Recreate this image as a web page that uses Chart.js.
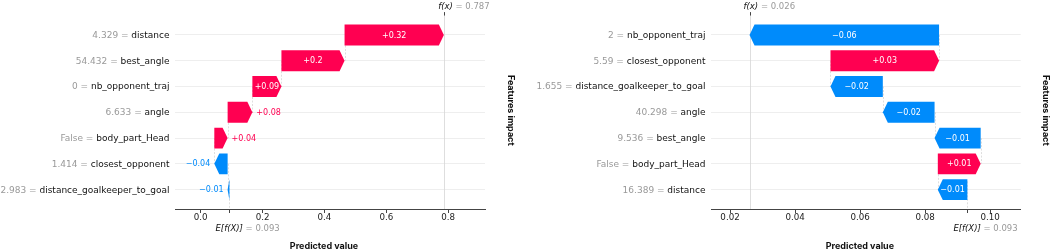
<!DOCTYPE html>
<html>
<head>
<meta charset="utf-8">
<script src="https://cdn.jsdelivr.net/npm/chart.js@4"></script>
<style>
body { margin: 0; background: #fff; }
#wrap { position: relative; width: 1052px; height: 251px; }
canvas { position: absolute; top: 0; }
</style>
</head>
<body>
<div id="wrap">
  <canvas id="leftChart" width="526" height="251" style="left:0"></canvas>
  <canvas id="rightChart" width="526" height="251" style="left:526px"></canvas>
</div>
<script>
// left shot: features top -> bottom
var leftFeatures = ["distance", "best_angle", "nb_opponent_traj", "angle", "body_part_Head", "closest_opponent", "distance_goalkeeper_to_goal"];
var leftValues = ["4.329", "54.432", "0", "6.633", "False", "1.414", "2.983"];
var leftShap = [0.321, 0.204, 0.094, 0.080, 0.043, -0.043, -0.006];
var leftBase = 0.093;
var leftFx = 0.787;
var leftTicks = [0.0, 0.2, 0.4, 0.6, 0.8];

// right shot
var rightFeatures = ["nb_opponent_traj", "closest_opponent", "distance_goalkeeper_to_goal", "angle", "best_angle", "body_part_Head", "distance"];
var rightValues = ["2", "5.59", "1.655", "40.298", "9.536", "False", "16.389"];
var rightShap = [-0.0583, 0.0334, -0.0161, -0.0159, -0.0142, 0.0132, -0.0091];
var rightBase = 0.093;
var rightFx = 0.026;
var rightTicks = [0.02, 0.04, 0.06, 0.08, 0.10];

var red = "#ff0051", blue = "#008bfb";
var labelFont = "DejaVu Sans";

// bars go from the bottom row up, starting at E[f(X)]
function waterfallData(shap, base) {
  var bars = [];
  var pos = base;
  for (var i = shap.length - 1; i >= 0; i--) {
    bars[i] = { x: [pos, pos + shap[i]], y: i };
    pos += shap[i];
  }
  return bars;
}

function fmt(v) {
  var s = Math.abs(v).toFixed(2).replace(/0+$/, "").replace(/\.$/, "");
  return (v < 0 ? "\u2212" : "+") + s;
}

var waterfallPlugin = {
  id: "waterfall",
  beforeDatasetsDraw: function (chart, args, opts) {
    var ctx = chart.ctx, xs = chart.scales.x, ys = chart.scales.y, area = chart.chartArea;
    ctx.save();
    ctx.strokeStyle = "#d6d6d6";
    ctx.lineWidth = 0.8;
    // f(x) line, full height
    var fx = Math.round(xs.getPixelForValue(opts.fx)) + 0.5;
    ctx.beginPath(); ctx.moveTo(fx, area.top); ctx.lineTo(fx, area.bottom); ctx.stroke();
    // E[f(X)] line, only the last row
    var ex = Math.round(xs.getPixelForValue(opts.base)) + 0.5;
    ctx.setLineDash([2, 1.5]);
    ctx.beginPath(); ctx.moveTo(ex, area.bottom - (area.bottom - area.top) / opts.shap.length); ctx.lineTo(ex, area.bottom); ctx.stroke();
    // connectors between bars
    for (var i = 0; i < opts.shap.length - 1; i++) {
      var lx = Math.round(xs.getPixelForValue(chart.data.datasets[0].data[i].x[0])) + 0.5;
      ctx.beginPath(); ctx.moveTo(lx, ys.getPixelForValue(i)); ctx.lineTo(lx, ys.getPixelForValue(i + 1)); ctx.stroke();
    }
    ctx.setLineDash([]);
    // small ticks for f(x) on top and E[f(X)] below
    ctx.strokeStyle = "#444";
    ctx.lineWidth = 1;
    ctx.beginPath(); ctx.moveTo(fx, area.top - 3.5); ctx.lineTo(fx, area.top); ctx.stroke();
    ctx.beginPath(); ctx.moveTo(ex, area.bottom); ctx.lineTo(ex, area.bottom + 4); ctx.stroke();
    ctx.restore();
  },
  afterDatasetsDraw: function (chart, args, opts) {
    var ctx = chart.ctx;
    var meta = chart.getDatasetMeta(0);
    ctx.save();
    ctx.font = "8px " + labelFont;
    ctx.textBaseline = "middle";
    meta.data.forEach(function (bar, i) {
      var v = opts.shap[i];
      var x0 = Math.min(bar.x, bar.base), x1 = Math.max(bar.x, bar.base);
      var h = bar.height / 2, y = bar.y;
      var head = Math.min(5, x1 - x0);
      ctx.fillStyle = v > 0 ? red : blue;
      ctx.beginPath();
      if (v > 0) {
        ctx.moveTo(x0, y - h); ctx.lineTo(x1 - head, y - h); ctx.lineTo(x1, y);
        ctx.lineTo(x1 - head, y + h); ctx.lineTo(x0, y + h);
      } else {
        ctx.moveTo(x1, y - h); ctx.lineTo(x0 + head, y - h); ctx.lineTo(x0, y);
        ctx.lineTo(x0 + head, y + h); ctx.lineTo(x1, y + h);
      }
      ctx.closePath();
      ctx.fill();

      var txt = fmt(v);
      var tw = ctx.measureText(txt).width;
      if (x1 - x0 > tw + 3) {
        ctx.fillStyle = "#fff";
        ctx.textAlign = "center";
        ctx.fillText(txt, (x0 + x1) / 2, y + 0.5);
      } else if (v > 0) {
        ctx.fillStyle = red;
        ctx.textAlign = "left";
        ctx.fillText(txt, x1 + 4, y + 0.5);
      } else {
        ctx.fillStyle = blue;
        ctx.textAlign = "right";
        ctx.fillText(txt, x0 - 4, y + 0.5);
      }
    });
    ctx.restore();
  },
  afterDraw: function (chart, args, opts) {
    var ctx = chart.ctx, xs = chart.scales.x, ys = chart.scales.y, area = chart.chartArea;
    ctx.save();
    ctx.textBaseline = "middle";
    // feature labels: "value = name"
    ctx.textAlign = "right";
    opts.features.forEach(function (name, i) {
      var y = ys.getPixelForValue(i) + 0.5;
      var xr = area.left - 5.5;
      ctx.font = "9px " + labelFont;
      ctx.fillStyle = "#111";
      ctx.fillText(name, xr, y);
      var w = ctx.measureText(name).width;
      ctx.fillStyle = "#999";
      ctx.fillText(opts.values[i] + " = ", xr - w, y);
    });
    // f(x) = ...
    ctx.textAlign = "left";
    var fx = xs.getPixelForValue(opts.fx);
    ctx.font = "italic 8.5px " + labelFont;
    ctx.fillStyle = "#111";
    ctx.fillText("f(x)", fx - 6, 6.5);
    var w1 = ctx.measureText("f(x)").width;
    ctx.font = "8.5px " + labelFont;
    ctx.fillStyle = "#999";
    ctx.fillText(" = " + opts.fx.toFixed(3), fx - 6 + w1, 6.5);
    // E[f(X)] = ...
    var ex = xs.getPixelForValue(opts.base);
    ctx.font = "italic 8.5px " + labelFont;
    ctx.fillStyle = "#111";
    ctx.fillText("E[f(X)]", ex - 14, 228.5);
    var w2 = ctx.measureText("E[f(X)]").width;
    ctx.font = "8.5px " + labelFont;
    ctx.fillStyle = "#999";
    ctx.fillText(" = " + opts.base.toFixed(3), ex - 14 + w2, 228.5);
    // titles
    ctx.font = "bold 9px Inter";
    ctx.fillStyle = "#111";
    ctx.textAlign = "center";
    ctx.fillText("Predicted value", (area.left + area.right) / 2 - 6, 246.5);
    ctx.translate(area.right + 25.5, (area.top + area.bottom) / 2 - 2);
    ctx.rotate(Math.PI / 2);
    ctx.fillText("Features impact", 0, 0);
    ctx.restore();
  }
};

function makeChart(id, features, values, shap, base, fx, ticks, xmin, xmax, decimals, padLeft, padRight) {
  return new Chart(document.getElementById(id), {
    type: "bar",
    data: {
      datasets: [{
        data: waterfallData(shap, base),
        backgroundColor: "rgba(0,0,0,0)",
        borderWidth: 0,
        barPercentage: 1.0,
        categoryPercentage: 0.81
      }]
    },
    options: {
      indexAxis: "y",
      responsive: false,
      animation: false,
      layout: { padding: { left: padLeft, right: padRight, top: 15.6, bottom: 0 } },
      plugins: {
        legend: { display: false },
        tooltip: { enabled: false },
        waterfall: { features: features, values: values, shap: shap, base: base, fx: fx }
      },
      scales: {
        x: {
          type: "linear",
          min: xmin,
          max: xmax,
          afterBuildTicks: function (scale) {
            scale.ticks = ticks.map(function (v) { return { value: v }; });
          },
          afterFit: function (scale) { scale.height = 42; },
          ticks: {
            padding: 0,
            color: "#222",
            font: { family: labelFont, size: 8.7 },
            callback: function (v) { return Number(v).toFixed(decimals); }
          },
          grid: { display: true, drawOnChartArea: false, drawTicks: true, tickLength: 4, tickColor: "#444" },
          border: { display: true, color: "#444", width: 1 }
        },
        y: {
          type: "linear",
          reverse: true,
          offset: false,
          min: -0.75,
          max: 6.75,
          afterBuildTicks: function (scale) {
            scale.ticks = features.map(function (f, i) { return { value: i }; });
          },
          afterFit: function (scale) { scale.width = 0; },
          ticks: { display: false },
          grid: { color: "#eeeeee", lineWidth: 1, drawTicks: false, offset: false },
          border: { display: false }
        }
      }
    },
    plugins: [waterfallPlugin]
  });
}

makeChart("leftChart", leftFeatures, leftValues, leftShap, leftBase, leftFx, leftTicks, -0.083, 0.919, 1, 175, 41);
makeChart("rightChart", rightFeatures, rightValues, rightShap, rightBase, rightFx, rightTicks, 0.01415, 0.1094, 2, 185, 31.3);
</script>
</body>
</html>
